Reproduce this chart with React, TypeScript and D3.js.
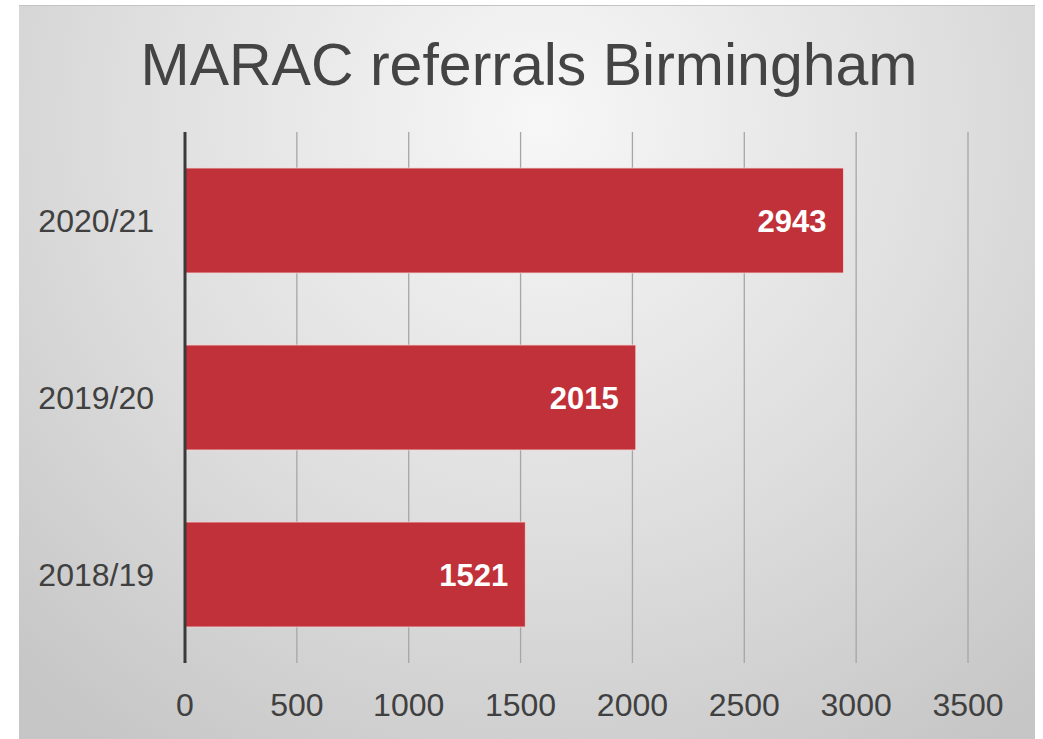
import { useEffect, useRef } from "react";
import * as d3 from "d3";

const categories = ["2020/21", "2019/20", "2018/19"];
const values = [2943, 2015, 1521];
const xTicks = [0, 500, 1000, 1500, 2000, 2500, 3000, 3500];
const title = "MARAC referrals Birmingham";

export default function App() {
  const ref = useRef<SVGSVGElement | null>(null);

  useEffect(() => {
    const W = 1043;
    const H = 739;
    const svg = d3.select(ref.current);
    svg.selectAll("*").remove();

    const defs = svg.append("defs");
    const grad = defs
      .append("radialGradient")
      .attr("id", "bg")
      .attr("gradientUnits", "userSpaceOnUse")
      .attr("cx", 540)
      .attr("cy", 120)
      .attr("r", 760);
    grad.append("stop").attr("offset", "0%").attr("stop-color", "#f7f7f7");
    grad.append("stop").attr("offset", "55%").attr("stop-color", "#dedede");
    grad.append("stop").attr("offset", "100%").attr("stop-color", "#c6c6c6");

    svg.append("rect").attr("width", W).attr("height", H).attr("fill", "#ffffff");
    // chart panel
    svg
      .append("rect")
      .attr("x", 19)
      .attr("y", 5)
      .attr("width", 1016)
      .attr("height", H - 5)
      .attr("fill", "url(#bg)");
    svg
      .append("line")
      .attr("x1", 19)
      .attr("x2", 1035)
      .attr("y1", 5.5)
      .attr("y2", 5.5)
      .attr("stroke", "#c4c4c4")
      .attr("stroke-width", 1);

    const font = "'Liberation Sans', Arial, sans-serif";

    svg
      .append("text")
      .attr("x", 529)
      .attr("y", 85)
      .attr("text-anchor", "middle")
      .attr("font-family", font)
      .attr("font-size", 59)
      .attr("fill", "#444444")
      .text(title);

    const x = d3.scaleLinear().domain([0, 3500]).range([185, 968]);
    const y = d3
      .scaleBand<string>()
      .domain(categories)
      .range([132, 663])
      .paddingInner(0.407)
      .paddingOuter(0.2035);

    // vertical gridlines
    svg
      .append("g")
      .selectAll("line")
      .data(xTicks.filter((t) => t > 0))
      .join("line")
      .attr("x1", (d) => x(d))
      .attr("x2", (d) => x(d))
      .attr("y1", 132)
      .attr("y2", 663)
      .attr("stroke", "#a6a6a6")
      .attr("stroke-width", 1.3);

    // bars
    svg
      .append("g")
      .selectAll("rect")
      .data(categories)
      .join("rect")
      .attr("x", x(0))
      .attr("y", (d) => y(d)!)
      .attr("width", (d, i) => x(values[i]) - x(0))
      .attr("height", y.bandwidth())
      .attr("fill", "#c1313a")
      .attr("stroke", "#f2d4d4")
      .attr("stroke-width", 0.8);

    // value labels
    svg
      .append("g")
      .selectAll("text")
      .data(categories)
      .join("text")
      .attr("x", (d, i) => x(values[i]) - 17)
      .attr("y", (d) => y(d)! + y.bandwidth() / 2 + 11)
      .attr("text-anchor", "end")
      .attr("font-family", font)
      .attr("font-weight", "bold")
      .attr("font-size", 31)
      .attr("fill", "#ffffff")
      .text((d, i) => values[i]);

    // category axis line
    svg
      .append("line")
      .attr("x1", x(0))
      .attr("x2", x(0))
      .attr("y1", 132)
      .attr("y2", 663)
      .attr("stroke", "#3a3a3a")
      .attr("stroke-width", 3);

    // category labels
    svg
      .append("g")
      .selectAll("text")
      .data(categories)
      .join("text")
      .attr("x", 154)
      .attr("y", (d) => y(d)! + y.bandwidth() / 2 + 11)
      .attr("text-anchor", "end")
      .attr("font-family", font)
      .attr("font-size", 32)
      .attr("fill", "#404040")
      .text((d) => d);

    // x tick labels
    svg
      .append("g")
      .selectAll("text")
      .data(xTicks)
      .join("text")
      .attr("x", (d) => x(d))
      .attr("y", 716)
      .attr("text-anchor", "middle")
      .attr("font-family", font)
      .attr("font-size", 32)
      .attr("fill", "#404040")
      .text((d) => d);
  }, []);

  return (
    <svg
      ref={ref}
      width={1043}
      height={739}
      style={{ position: "absolute", left: 0, top: 0 }}
    />
  );
}
